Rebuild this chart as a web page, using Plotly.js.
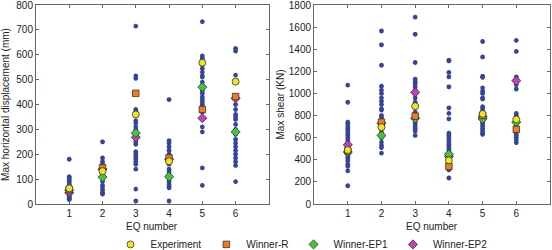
<!DOCTYPE html>
<html>
<head>
<meta charset="utf-8">
<script src="https://cdn.plot.ly/plotly-3.0.1.min.js"></script>
<style>html,body{margin:0;padding:0;background:#fff;overflow:hidden}#chart{width:552px;height:250px;overflow:hidden}</style>
</head>
<body>
<div id="chart"></div>
<script>
// ---- Data: Max horizontal displacement (mm) ----
const dispStars1 = [180, 110, 105, 98, 92, 85, 78, 72, 68, 60, 55, 50, 45, 40, 35, 30, 25, 20, 18];
const dispStars2 = [250, 185, 170, 160, 150, 130, 120, 110, 100, 90, 75, 65, 55, 45, 40];
const dispStars3 = [715, 515, 505, 380, 370, 335, 325, 310, 300, 290, 280, 260, 250, 240, 210, 200, 190, 180, 170, 160, 140, 60, 12];
const dispStars4 = [420, 255, 245, 230, 215, 200, 190, 175, 160, 140, 130, 120, 100, 90, 80, 70, 65, 12];
const dispStars5 = [733, 595, 585, 575, 560, 545, 530, 515, 510, 490, 475, 455, 445, 430, 420, 410, 400, 390, 370, 310, 290, 145, 75];
const dispStars6 = [625, 615, 518, 430, 420, 400, 380, 360, 350, 340, 320, 300, 280, 260, 245, 230, 215, 200, 185, 170, 155, 90];
const dispExperiment = [63, 132, 360, 172, 568, 492];
const dispWinnerR   = [58, 146, 445, 185, 380, 432];
const dispWinnerEP1 = [55, 108, 285, 110, 470, 290];
const dispWinnerEP2 = [45, 140, 268, 180, 345, 425];

// ---- Data: Max shear (KN) ----
const shearStars1 = [1075, 920, 740, 720, 700, 680, 660, 640, 620, 600, 580, 560, 520, 500, 470, 450, 430, 410, 390, 360, 340, 300, 165];
const shearStars2 = [1565, 1440, 1255, 1065, 1030, 1000, 960, 930, 900, 860, 850, 800, 780, 760, 720, 680, 650, 600, 560, 530, 510, 460];
const shearStars3 = [1690, 1535, 1280, 1130, 1110, 1090, 1060, 1030, 1000, 960, 920, 880, 830, 800, 780, 760, 740, 720, 700, 680, 660, 620];
const shearStars4 = [1300, 1295, 1190, 1150, 1060, 870, 820, 770, 640, 620, 600, 580, 560, 540, 520, 500, 480, 460, 440, 420, 380, 360, 340, 310, 235];
const shearStars5 = [1470, 1330, 1155, 1145, 1050, 1020, 1000, 960, 950, 880, 860, 840, 820, 800, 780, 760, 740, 720, 700, 680, 660, 640, 630];
const shearStars6 = [1480, 1380, 1150, 1130, 1100, 1080, 1040, 820, 800, 780, 760, 740, 720, 700, 680, 660, 640, 620, 600, 580, 555];
const shearExperiment = [488, 695, 885, 395, 815, 765];
const shearWinnerR   = [480, 740, 795, 340, 800, 675];
const shearWinnerEP1 = [470, 620, 775, 450, 770, 740];
const shearWinnerEP2 = [535, 730, 1010, 430, 790, 1115];

const eqNumbers = [1, 2, 3, 4, 5, 6];
const dispTicks = [0, 100, 200, 300, 400, 500, 600, 700, 800];
const shearTicks = [0, 200, 400, 600, 800, 1000, 1200, 1400, 1600, 1800];
const legendNames = ['Experiment', 'Winner-R', 'Winner-EP1', 'Winner-EP2'];
const xTitle = 'EQ number';

function starTrace(groups, xa, ya) {
  const xs = [], ys = [];
  groups.forEach((g, i) => g.forEach(v => { xs.push(eqNumbers[i]); ys.push(v); }));
  return {
    x: xs, y: ys, xaxis: xa, yaxis: ya, type: 'scatter', mode: 'markers',
    showlegend: false, hoverinfo: 'skip',
    marker: { symbol: 'asterisk-open', size: 4, color: '#34449a', line: { color: '#34449a', width: 1.4 } }
  };
}
const styles = [
  { symbol: 'circle', color: '#f2e51e', size: 7 },
  { symbol: 'square', color: '#f27b1f', size: 6.5 },
  { symbol: 'diamond', color: '#3ec83e', size: 7 },
  { symbol: 'diamond', color: '#c83cc0', size: 7 }
];
function markTrace(vals, k, xa, ya, showLegend) {
  return {
    x: eqNumbers, y: vals, xaxis: xa, yaxis: ya, type: 'scatter', mode: 'markers',
    name: legendNames[k], showlegend: showLegend, legendgroup: legendNames[k],
    marker: { symbol: styles[k].symbol, size: styles[k].size, color: styles[k].color, line: { color: '#333', width: 0.8 } }
  };
}

const data = [
  starTrace([dispStars1, dispStars2, dispStars3, dispStars4, dispStars5, dispStars6], 'x', 'y'),
  starTrace([shearStars1, shearStars2, shearStars3, shearStars4, shearStars5, shearStars6], 'x2', 'y2'),
  markTrace(dispWinnerEP2, 3, 'x', 'y', false),
  markTrace(dispWinnerEP1, 2, 'x', 'y', false),
  markTrace(dispWinnerR, 1, 'x', 'y', false),
  markTrace(dispExperiment, 0, 'x', 'y', false),
  markTrace(shearWinnerEP2, 3, 'x2', 'y2', false),
  markTrace(shearWinnerEP1, 2, 'x2', 'y2', false),
  markTrace(shearWinnerR, 1, 'x2', 'y2', false),
  markTrace(shearExperiment, 0, 'x2', 'y2', false)
];
// legend-only traces in order
[0, 1, 2, 3].forEach(k => {
  data.push({ x: [null], y: [null], xaxis: 'x', yaxis: 'y', type: 'scatter', mode: 'markers',
    name: legendNames[k], showlegend: true,
    marker: { symbol: styles[k].symbol, size: styles[k].size, color: styles[k].color, line: { color: '#333', width: 0.8 } } });
});

const axisBase = {
  showline: true, mirror: 'ticks', linecolor: '#666', linewidth: 1,
  ticks: 'inside', ticklen: 3, tickcolor: '#666', showgrid: false, zeroline: false,
  ticklabeloverflow: 'allow',
  tickfont: { family: 'Liberation Sans, Arial, sans-serif', size: 10, color: '#222' }
};
const titleFont = { family: 'Liberation Sans, Arial, sans-serif', size: 10, color: '#222' };

const layout = {
  width: 552, height: 262,
  margin: { l: 36, r: 2, t: 5, b: 58, autoexpand: false },
  paper_bgcolor: '#fff', plot_bgcolor: '#fff',
  showlegend: true,
  legend: { orientation: 'h', x: 0.145, xanchor: 'left', y: -0.203, yanchor: 'middle',
    font: { family: 'Liberation Sans, Arial, sans-serif', size: 10, color: '#222' }, traceorder: 'normal' },
  xaxis: Object.assign({}, axisBase, { domain: [0, 0.453], range: [0, 7], tickvals: eqNumbers }),
  yaxis: Object.assign({}, axisBase, { range: [0, 800], tickmode: 'array', tickvals: dispTicks,
    title: { text: 'Max horizontal displacement (mm)', font: titleFont } }),
  xaxis2: Object.assign({}, axisBase, { domain: [0.541, 1], range: [0, 7], tickvals: eqNumbers, anchor: 'y2' }),
  yaxis2: Object.assign({}, axisBase, { range: [0, 1800], tickmode: 'array', tickvals: shearTicks, anchor: 'x2',
    title: { text: 'Max shear (KN)', font: titleFont } }),
  annotations: [
    { text: xTitle, xref: 'x domain', yref: 'y domain', x: 0.5, y: 0, xanchor: 'center', yanchor: 'middle',
      yshift: -22, showarrow: false, font: titleFont },
    { text: xTitle, xref: 'x2 domain', yref: 'y2 domain', x: 0.5, y: 0, xanchor: 'center', yanchor: 'middle',
      yshift: -22, showarrow: false, font: titleFont }
  ]
};

Plotly.newPlot('chart', data, layout, { displayModeBar: false, staticPlot: true });
</script>
</body>
</html>
